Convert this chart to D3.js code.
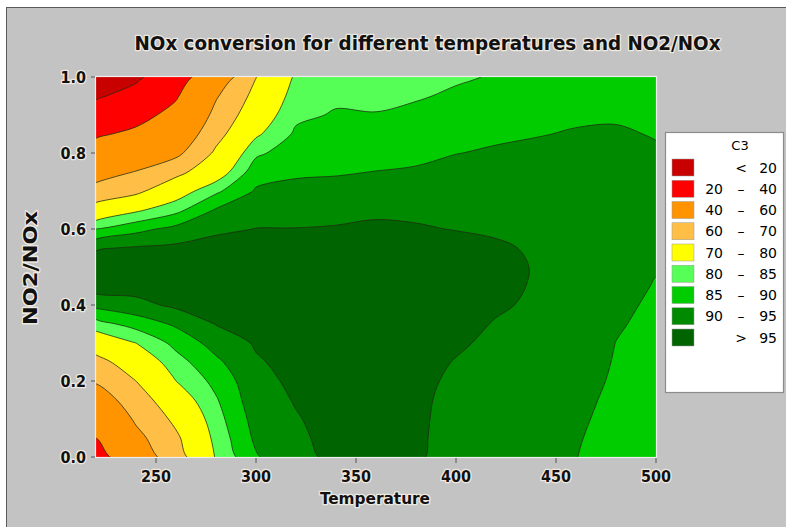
<!DOCTYPE html>
<html><head><meta charset="utf-8">
<script src="https://cdn.jsdelivr.net/npm/d3@7"></script>
<style>body{margin:0;background:#fff;}svg{display:block}</style>
</head><body>
<svg id="chart" width="786" height="527"></svg>
<script>
// ---- data ----
const temperatures = [220, 240, 260, 280, 300, 320, 340, 360, 380, 400, 420, 440, 460, 480, 500];
const ratios = [0, 0.05, 0.1, 0.15, 0.2, 0.25, 0.3, 0.35, 0.4, 0.45, 0.5, 0.55, 0.6, 0.65, 0.7, 0.75, 0.8, 0.85, 0.9, 0.95, 1.0];
// C3 (NOx conversion, %) per temperature, listed for NO2/NOx = 0 ... 1.0
const c3_T220 = [33, 40, 47, 54, 61, 67, 75, 83, 91.5, 97.5, 98, 94.5, 85, 74, 64, 55, 47, 38, 28, 18, 10];
const c3_T240 = [53, 57, 61.5, 65.5, 70, 75, 80, 87, 93.5, 97, 98, 95.5, 88.5, 79, 68, 60.5, 51, 43, 35, 26, 17];
const c3_T260 = [66, 68.5, 72, 76, 80, 83, 86.5, 90.8, 96, 97.5, 98, 96, 91.5, 83.5, 76.5, 67.5, 57.5, 51, 44.5, 38.5, 32];
const c3_T280 = [80.5, 81.7, 83, 84.5, 86.5, 89, 92, 95.2, 97, 98, 98, 97, 94, 90.5, 84, 76, 71.5, 67, 63, 59, 52];
const c3_T300 = [89.5, 91, 92, 93, 93.5, 94.5, 95.5, 96.5, 97.5, 98, 98, 97, 95.1, 93, 90.5, 88, 84, 79, 75.7, 72.8, 69.8];
const c3_T320 = [94, 94.3, 94.7, 95.3, 96, 96.5, 97, 97.5, 98, 98, 98, 97, 95.1, 93.5, 91.5, 89.2, 87.7, 85.8, 84, 82.5, 81];
const c3_T340 = [95.8, 96.2, 96.6, 97, 97.4, 97.8, 98, 98.2, 98.3, 98.3, 98.2, 97.5, 95.3, 93.8, 91.5, 89.6, 88, 86.7, 85.4, 84.2, 83];
const c3_T360 = [96, 96.3, 96.7, 97, 97.4, 97.7, 98, 98.2, 98.3, 98.3, 98.2, 97.6, 96, 94, 92.1, 90.1, 88.3, 86.8, 85.2, 84, 83];
const c3_T380 = [95.5, 95.6, 95.7, 95.8, 96, 96.4, 96.9, 97.3, 97.7, 98, 98, 97.4, 95.5, 93.9, 92.5, 90.7, 88.5, 87.3, 86, 84.6, 83.5];
const c3_T400 = [93.5, 93.6, 93.7, 93.9, 94.3, 94.8, 95.6, 96.5, 97.1, 97.5, 97.6, 97, 94.8, 93.8, 92.8, 91.5, 89.9, 88.3, 86.9, 85.6, 84.5];
const c3_T420 = [92.5, 92.6, 92.7, 92.9, 93.2, 93.6, 94.1, 94.7, 95.6, 96.2, 96.4, 95.7, 94.3, 93.5, 92.7, 91.6, 90.5, 89.3, 88.2, 86.6, 85.3];
const c3_T440 = [92, 92.1, 92.2, 92.4, 92.7, 93, 93.4, 93.8, 94.3, 94.6, 94.7, 94.4, 93.8, 93.2, 92.6, 91.8, 90.9, 89.8, 88.7, 87.6, 86.5];
const c3_T460 = [90.1, 90.4, 90.8, 91.2, 91.7, 92.1, 92.5, 92.9, 93.2, 93.4, 93.5, 93.4, 93.1, 92.7, 92.3, 91.7, 91, 90.3, 89.4, 88.4, 87.4];
const c3_T480 = [87.8, 88.2, 88.6, 89, 89.4, 89.7, 89.95, 90.4, 90.8, 91.2, 91.5, 91.7, 91.8, 91.8, 91.6, 91.3, 90.9, 90.4, 89.6, 88.8, 88];
const c3_T500 = [85.5, 86, 86.5, 87, 87.5, 88, 88.5, 89, 89.4, 89.8, 90.2, 90.5, 90.8, 91, 91, 90.8, 90.4, 89.8, 89, 88.2, 87.5];
const c3Columns = [c3_T220, c3_T240, c3_T260, c3_T280, c3_T300, c3_T320, c3_T340, c3_T360, c3_T380, c3_T400, c3_T420, c3_T440, c3_T460, c3_T480, c3_T500];

const thresholds = [20, 40, 60, 70, 80, 85, 90, 95];
const bandColors = ["#c80000", "#ff0000", "#ff9400", "#ffbf47", "#ffff00", "#55ff55", "#00cc00", "#008a00", "#006400"];
const legendLow  = ["", "20", "40", "60", "70", "80", "85", "90", ""];
const legendSym  = ["<", "\u2013", "\u2013", "\u2013", "\u2013", "\u2013", "\u2013", "\u2013", ">"];
const legendHigh = ["20", "40", "60", "70", "80", "85", "90", "95", "95"];
const xTicks = [250, 300, 350, 400, 450, 500];
const yTicks = [0, 0.2, 0.4, 0.6, 0.8, 1.0];
const titleText = "NOx conversion for different temperatures and NO2/NOx";
const xLabel = "Temperature";
const yLabel = "NO2/NOx";
const legendTitle = "C3";

// ---- drawing ----
const svg = d3.select("#chart");
const W = 786, H = 527;
const plot = {left: 96, right: 656, top: 77, bottom: 457};
const x = d3.scaleLinear().domain([220, 500]).range([plot.left, plot.right]);
const y = d3.scaleLinear().domain([0, 1]).range([plot.bottom, plot.top]);
const boldFont = "'DejaVu Sans Condensed', 'DejaVu Sans', sans-serif";

svg.append("rect").attr("width", W).attr("height", H).attr("fill", "#ffffff");
svg.append("rect").attr("x", 6.5).attr("y", 7.5).attr("width", W + 10).attr("height", H + 10)
  .attr("fill", "#c3c3c3").attr("stroke", "#5a5a5a").attr("stroke-width", 1);

const halo = sel => sel.attr("stroke", "#f6f1e6").attr("stroke-width", 2.6).attr("stroke-opacity", 0.85)
  .attr("stroke-linejoin", "round").attr("paint-order", "stroke");

// title
svg.append("text").attr("x", 427.5).attr("y", 50).attr("text-anchor", "middle")
  .attr("font-family", boldFont).attr("font-weight", "bold").attr("font-size", 20)
  .attr("textLength", 586).attr("lengthAdjust", "spacingAndGlyphs")
  .attr("fill", "#111").text(titleText).call(halo);

// contour bands
svg.append("clipPath").attr("id", "plotclip").append("rect")
  .attr("x", plot.left).attr("y", plot.top).attr("width", plot.right - plot.left).attr("height", plot.bottom - plot.top);

const nx = temperatures.length, ny = ratios.length;
const values = new Array(nx * ny);
for (let j = 0; j < ny; j++) for (let i = 0; i < nx; i++) values[j * nx + i] = c3Columns[i][j];
const tStep = temperatures[1] - temperatures[0];
const rStep = ratios[1] - ratios[0];
const toPx = p => [x(temperatures[0] + (p[0] - 0.5) * tStep), y(ratios[0] + (p[1] - 0.5) * rStep)];
const ringLine = d3.line().curve(d3.curveCatmullRomClosed.alpha(0.5));
const contourPath = c => c.coordinates
  .map(poly => poly.map(ring => ringLine(ring.slice(0, -1).map(toPx))).join(""))
  .join("");
const contours = d3.contours().size([nx, ny]).thresholds(thresholds)(values);

const g = svg.append("g").attr("clip-path", "url(#plotclip)");
g.append("rect").attr("x", plot.left).attr("y", plot.top).attr("width", plot.right - plot.left)
  .attr("height", plot.bottom - plot.top).attr("fill", bandColors[0]);
g.selectAll("path.band").data(contours).join("path").attr("class", "band")
  .attr("d", contourPath)
  .attr("fill-rule", "evenodd")
  .attr("fill", (d, i) => bandColors[i + 1])
  .attr("stroke", "#1e2a12").attr("stroke-width", 0.9).attr("stroke-opacity", 0.85)
  .attr("stroke-linejoin", "round");

// plot frame
svg.append("rect").attr("x", plot.left - 0.5).attr("y", plot.top - 0.5)
  .attr("width", plot.right - plot.left + 1).attr("height", plot.bottom - plot.top + 1)
  .attr("fill", "none").attr("stroke", "#eeeeee").attr("stroke-width", 1.2);

// axes
const yAxis = svg.append("g");
yAxis.selectAll("line").data(yTicks).join("line")
  .attr("x1", plot.left - 5).attr("x2", plot.left - 1)
  .attr("y1", d => y(d)).attr("y2", d => y(d)).attr("stroke", "#555").attr("stroke-width", 1);
yAxis.selectAll("text").data(yTicks).join("text")
  .attr("x", plot.left - 10).attr("y", d => y(d) + 5.5).attr("text-anchor", "end")
  .attr("font-family", boldFont).attr("font-weight", "bold").attr("font-size", 16).attr("fill", "#111")
  .text(d => d3.format(".1f")(d)).call(halo);

const xAxis = svg.append("g");
xAxis.selectAll("line").data(xTicks).join("line")
  .attr("x1", d => x(d)).attr("x2", d => x(d))
  .attr("y1", plot.bottom + 1).attr("y2", plot.bottom + 6).attr("stroke", "#555").attr("stroke-width", 1);
xAxis.selectAll("text").data(xTicks).join("text")
  .attr("x", d => x(d)).attr("y", 482).attr("text-anchor", "middle")
  .attr("font-family", boldFont).attr("font-weight", "bold").attr("font-size", 16).attr("fill", "#111")
  .text(d => d).call(halo);

svg.append("text").attr("x", 375).attr("y", 504).attr("text-anchor", "middle")
  .attr("font-family", boldFont).attr("font-weight", "bold").attr("font-size", 16)
  .attr("textLength", 110).attr("lengthAdjust", "spacingAndGlyphs")
  .attr("fill", "#111").text(xLabel).call(halo);

svg.append("text").attr("transform", "translate(37,268) rotate(-90)").attr("text-anchor", "middle")
  .attr("font-family", boldFont).attr("font-weight", "bold").attr("font-size", 20)
  .attr("textLength", 114).attr("lengthAdjust", "spacingAndGlyphs")
  .attr("fill", "#111").text(yLabel).call(halo);

// legend
const lg = svg.append("g");
lg.append("rect").attr("x", 665.5).attr("y", 132.5).attr("width", 118).attr("height", 260)
  .attr("fill", "#ffffff").attr("stroke", "#8c8c8c").attr("stroke-width", 1.2);
const legendFont = "'DejaVu Sans', sans-serif";
lg.append("text").attr("x", 740).attr("y", 150).attr("text-anchor", "middle")
  .attr("font-family", legendFont).attr("font-size", 13).attr("fill", "#000").text(legendTitle);
const rows = lg.selectAll("g.row").data(bandColors).join("g").attr("class", "row")
  .attr("transform", (d, i) => `translate(0,${159 + i * 21.25})`);
rows.append("rect").attr("x", 672).attr("y", 0).attr("width", 22).attr("height", 17)
  .attr("fill", d => d).attr("stroke", "#9a9a9a").attr("stroke-width", 0.5);
rows.append("text").attr("x", 723).attr("y", 13.5).attr("text-anchor", "end")
  .attr("font-family", legendFont).attr("font-size", 14).attr("fill", "#000").text((d, i) => legendLow[i]);
rows.append("text").attr("x", 741).attr("y", 13.5).attr("text-anchor", "middle")
  .attr("font-family", legendFont).attr("font-size", 14).attr("fill", "#000").text((d, i) => legendSym[i]);
rows.append("text").attr("x", 777).attr("y", 13.5).attr("text-anchor", "end")
  .attr("font-family", legendFont).attr("font-size", 14).attr("fill", "#000").text((d, i) => legendHigh[i]);
</script>
</body></html>
